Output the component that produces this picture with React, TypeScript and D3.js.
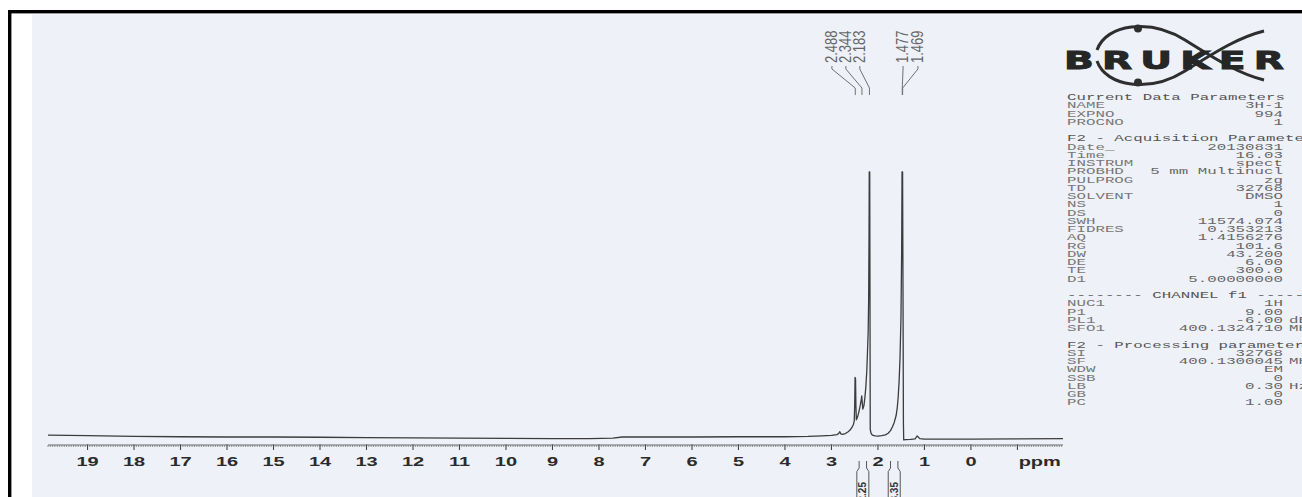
import React from "react";
import * as d3 from "d3";

const W = 1302;
const H = 497;

// ---- spectrum trace: chemical shift (ppm) and relative intensity (% of tallest peak)
const shiftPpm = [
  19.85, 19.0, 18.0, 17.0, 16.0, 15.0, 14.0, 13.0, 12.0, 11.0, 10.0, 9.0, 8.2, 7.7, 7.5, 7.0, 6.0, 5.0, 4.0, 3.5,
  3.2, 3.0, 2.88, 2.84, 2.82, 2.8, 2.76, 2.7, 2.64, 2.6, 2.56, 2.53, 2.51, 2.5, 2.492, 2.482, 2.474, 2.465, 2.44,
  2.41, 2.38, 2.36, 2.348, 2.338, 2.325, 2.3, 2.28, 2.26, 2.24, 2.225, 2.21, 2.2, 2.192, 2.187, 2.177, 2.172, 2.166,
  2.15, 2.12, 2.06, 2.0, 1.92, 1.84, 1.78, 1.73, 1.69, 1.65, 1.61, 1.585, 1.565, 1.545, 1.525, 1.505, 1.49, 1.482,
  1.47, 1.462, 1.452, 1.446, 1.4, 1.3, 1.2, 1.17, 1.155, 1.14, 1.1, 1.0, 0.5, 0.0, -1.0, -1.98,
];
const intensity = [
  0.7, 0.5, 0.2, 0.1, 0.0, 0.0, -0.1, -0.2, -0.3, -0.4, -0.5, -0.6, -0.6, -0.4, 0.0, 0.0, 0.0, 0.1, 0.1, 0.2,
  0.4, 0.6, 0.9, 1.4, 2.0, 1.2, 1.0, 1.3, 2.0, 2.6, 3.6, 4.6, 6.0, 12, 22.5, 22, 12, 6.5, 7.5,
  9.5, 12, 14, 15.5, 13, 10.5, 12, 15, 19, 25, 32, 40, 52, 75, 100, 100, 60, 3,
  1.5, 0.7, 0.4, 0.3, 0.5, 0.8, 1.4, 2.4, 3.8, 5.5, 8, 11, 15, 21, 30, 45, 70, 100,
  100, 60, 5, -1.1, -1.0, -0.9, -0.7, 0.1, 0.4, 0.1, -0.6, -0.8, -0.8, -0.8, -0.7, -0.6,
];

// ---- peak picking labels
const peakLabels = ["2.488", "2.344", "2.183", "1.477", "1.469"];
const peakShifts = [2.488, 2.344, 2.183, 1.477, 1.469];
const peakLabelSlots = [2.99, 2.69, 2.39, 1.46, 1.14];

// ---- integrals
const integralFrom = [2.6, 1.9];
const integralTo = [2.05, 1.4];
const integralValues = ["2.25", "3.35"];

// ---- axis
const axisTickValues = [19, 18, 17, 16, 15, 14, 13, 12, 11, 10, 9, 8, 7, 6, 5, 4, 3, 2, 1, 0];
const axisUnit = "ppm";

// ---- parameter block
const paramHeaders = ["Current Data Parameters", "F2 - Acquisition Parameters", "-------- CHANNEL f1 --------", "F2 - Processing parameters"];
const paramNames = [
  ["NAME", "EXPNO", "PROCNO"],
  ["Date_", "Time", "INSTRUM", "PROBHD", "PULPROG", "TD", "SOLVENT", "NS", "DS", "SWH", "FIDRES", "AQ", "RG", "DW", "DE", "TE", "D1"],
  ["NUC1", "P1", "PL1", "SFO1"],
  ["SI", "SF", "WDW", "SSB", "LB", "GB", "PC"],
];
const paramValues = [
  ["3H-1", "994", "1"],
  ["20130831", "16.03", "spect", "5 mm Multinucl", "zg", "32768", "DMSO", "1", "0", "11574.074", "0.353213", "1.4156276", "101.6", "43.200", "6.00", "300.0", "5.00000000"],
  ["1H", "9.00", "-6.00", "400.1324710"],
  ["32768", "400.1300045", "EM", "0", "0.30", "0", "1.00"],
];
const paramUnits = [
  ["", "", ""],
  ["", "", "", "", "", "", "", "", "", "", "", "", "", "", "", "", ""],
  ["", "", "dB", "MHz"],
  ["", "MHz", "", "", "Hz", "", ""],
];

const SANS = "'Liberation Sans', Arial, Helvetica, sans-serif";
const MONO = "'Liberation Mono', 'DejaVu Sans Mono', monospace";

export default function App() {
  const x = d3.scaleLinear().domain([19.85, -1.98]).range([48, 1063]);
  const y = d3.scaleLinear().domain([0, 100]).range([437, 172]);
  const pts: [number, number][] = shiftPpm.map((p, i) => [p, intensity[i]]);
  const line = d3
    .line<[number, number]>()
    .x((d) => x(d[0]))
    .y((d) => y(d[1]));

  const [dMax, dMin] = x.domain();
  const minor = d3
    .range(Math.ceil(dMin / 0.05), Math.floor(dMax / 0.05) + 1)
    .map((i) => i * 0.05)
    .filter((v) => Math.abs(v - Math.round(v)) > 1e-6);
  const majorAll = d3.range(Math.ceil(dMin), Math.floor(dMax) + 1);

  const axisY = 445;

  // parameter lines layout
  const lineH = 8.25;
  const pTop = 97;
  const paramRows: { kind: "h" | "p"; text?: string; name?: string; value?: string; unit?: string; y: number }[] = [];
  let row = 0;
  paramHeaders.forEach((h, g) => {
    paramRows.push({ kind: "h", text: h, y: pTop + row * lineH });
    row++;
    paramNames[g].forEach((n, k) => {
      paramRows.push({ kind: "p", name: n, value: paramValues[g][k], unit: paramUnits[g][k], y: pTop + row * lineH });
      row++;
    });
    row++;
  });
  const sx = 1.58;
  const sy = 0.82;

  return (
    <svg
      width={W}
      height={H}
      viewBox={`0 0 ${W} ${H}`}
      style={{ position: "absolute", left: 0, top: 0, display: "block", background: "#ffffff" }}
    >
      <rect x={0} y={0} width={W} height={H} fill="#ffffff" />
      <rect x={32} y={14.5} width={W - 32} height={H - 14.5} fill="#eef1f8" />
      {/* frame */}
      <rect x={8} y={10} width={W - 8} height={3.4} fill="#000" />
      <rect x={8} y={10} width={3.4} height={H - 10} fill="#000" />

      {/* axis */}
      <line x1={x(dMax)} x2={x(dMin)} y1={axisY} y2={axisY} stroke="#6a6a6a" strokeWidth={1} />
      {minor.map((v, i) => (
        <line key={"m" + i} x1={x(v)} x2={x(v)} y1={axisY} y2={axisY + 2} stroke="#7a7a7a" strokeWidth={0.8} />
      ))}
      {majorAll.map((v) => (
        <line key={"M" + v} x1={x(v)} x2={x(v)} y1={axisY - 0.5} y2={axisY + 5} stroke="#444" strokeWidth={1.1} />
      ))}
      {axisTickValues.map((v) => (
        <text
          key={"t" + v}
          transform={`translate(${x(v)},465.5) scale(1.6,1)`}
          textAnchor="middle"
          fontFamily={SANS}
          fontWeight="bold"
          fontSize={12.5}
          fill="#2b2b2b"
        >
          {v}
        </text>
      ))}
      <text
        transform={`translate(${x(-1.48)},465.5) scale(1.6,1)`}
        textAnchor="middle"
        fontFamily={SANS}
        fontWeight="bold"
        fontSize={12.5}
        fill="#2b2b2b"
      >
        {axisUnit}
      </text>

      {/* spectrum */}
      <path d={line(pts) || ""} fill="none" stroke="#3c3c3c" strokeWidth={1.3} strokeLinejoin="round" />

      {/* peak labels */}
      {peakLabels.map((lab, i) => {
        const lx = x(peakLabelSlots[i]);
        const px = x(peakShifts[i]);
        return (
          <g key={"pl" + i}>
            <text
              transform={`translate(${lx + 5},63) rotate(-90) scale(1,1.2)`}
              textAnchor="start"
              fontFamily={SANS}
              fontSize={13}
              fill="#666"
            >
              {lab}
            </text>
            <path
              d={`M${lx},66 L${lx},69 L${px},88 L${px},95`}
              fill="none"
              stroke="#707070"
              strokeWidth={1}
            />
          </g>
        );
      })}

      {/* integrals */}
      {integralValues.map((val, i) => {
        const cx = x((integralFrom[i] + integralTo[i]) / 2);
        return (
          <g key={"int" + i}>
            <line x1={cx - 3.7} x2={cx - 3.7} y1={461} y2={468} stroke="#555" strokeWidth={1} />
            <line x1={cx + 3.7} x2={cx + 3.7} y1={461} y2={468} stroke="#555" strokeWidth={1} />
            <path
              d={`M${cx - 3.7},468 L${cx - 6},471.5 L${cx - 6},${H + 5} L${cx + 6},${H + 5} L${cx + 6},471.5 L${cx + 3.7},468`}
              fill="none"
              stroke="#555"
              strokeWidth={1}
            />
            <text
              transform={`translate(${cx + 3.6},482) rotate(-90)`}
              textAnchor="end"
              fontFamily={SANS}
              fontWeight="bold"
              fontSize={10}
              fill="#333"
            >
              {val}
            </text>
          </g>
        );
      })}

      {/* Bruker logo */}
      <g>
        <path d="M1097,50 C1106,24 1150,18 1185,40 S1240,74 1264,80" fill="none" stroke="#2e2e2e" strokeWidth={3} />
        <path d="M1097,61 C1106,87 1150,93 1185,71 S1240,37 1264,31" fill="none" stroke="#2e2e2e" strokeWidth={3} />
        <circle cx={1138} cy={28.5} r={4} fill="#2e2e2e" />
        <circle cx={1138} cy={82.5} r={4} fill="#2e2e2e" />
        <text
          x={1064}
          y={68.5}
          textLength={228}
          lengthAdjust="spacingAndGlyphs"
          letterSpacing={5}
          fontFamily="'DejaVu Sans', 'Liberation Sans', sans-serif"
          fontWeight="bold"
          fontSize={24}
          fill="#262626"
          stroke="#262626"
          strokeWidth={0.9}
        >
          BRUKER
        </text>
      </g>

      {/* parameters */}
      {paramRows.map((r, i) =>
        r.kind === "h" ? (
          <text
            key={"pr" + i}
            transform={`translate(1067,${r.y + 3}) scale(${sx},${sy})`}
            fontFamily={MONO}
            fontSize={10}
            fill="#555"
          >
            {r.text}
          </text>
        ) : (
          <g key={"pr" + i}>
            <text transform={`translate(1067,${r.y + 3}) scale(${sx},${sy})`} fontFamily={MONO} fontSize={10} fill="#777">
              {r.name}
            </text>
            <text
              transform={`translate(1283,${r.y + 3}) scale(${sx},${sy})`}
              textAnchor="end"
              fontFamily={MONO}
              fontSize={10}
              fill="#666"
            >
              {r.value}
            </text>
            {r.unit ? (
              <text transform={`translate(1289,${r.y + 3}) scale(${sx},${sy})`} fontFamily={MONO} fontSize={10} fill="#666">
                {r.unit}
              </text>
            ) : null}
          </g>
        )
      )}
    </svg>
  );
}
